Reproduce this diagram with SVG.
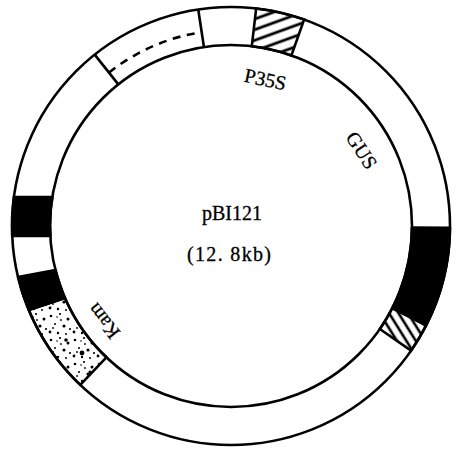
<svg xmlns="http://www.w3.org/2000/svg" width="457" height="449" viewBox="0 0 457 449">
<style>
.ln{fill:none;stroke:#000;stroke-width:2.6}
.blk{fill:#000;stroke:#000;stroke-width:2.6;stroke-linejoin:round}
.lbl{font-family:"Liberation Serif",serif;font-size:20px;fill:#000;stroke:#000;stroke-width:0.3}
</style>
<defs>
<pattern id="hatchTop" patternUnits="userSpaceOnUse" width="20" height="10" patternTransform="rotate(-20)">
<line x1="0" y1="5" x2="20" y2="5" stroke="#000" stroke-width="2.8"/>
</pattern>
<pattern id="hatchRight" patternUnits="userSpaceOnUse" width="20" height="8" patternTransform="rotate(58)">
<line x1="0" y1="4" x2="20" y2="4" stroke="#000" stroke-width="2.6"/>
</pattern>
<pattern id="dots" patternUnits="userSpaceOnUse" width="24" height="24">
<circle cx="3" cy="4" r="1.3"/><circle cx="12" cy="2" r="1.1"/><circle cx="20" cy="7" r="1.5"/>
<circle cx="7" cy="12" r="1"/><circle cx="16" cy="14" r="1.6"/><circle cx="22" cy="17" r="1.1"/>
<circle cx="2" cy="20" r="1.4"/><circle cx="10" cy="21" r="1.2"/><circle cx="18" cy="22" r="1"/>
<circle cx="13" cy="8" r="0.9"/><circle cx="5" cy="16" r="0.9"/><circle cx="9" cy="5" r="0.8"/>
</pattern>
</defs>
<g id="ring">
<circle class="ln" cx="231" cy="226" r="219"/>
<circle class="ln" cx="231" cy="226" r="181"/>
</g>
<g id="segment-dashed">
<path class="ln" d="M94.67 54.61 L118.33 84.35"/>
<path class="ln" d="M108.99 72.61 A196 196 0 0 1 201.69 32.2" stroke-dasharray="8 6.5"/>
</g>
<g id="segment-white">
<path class="ln" d="M198.25 9.46 L203.93 47.03"/>
</g>
<g id="segment-P35S-hatch">
<path d="M256.17 8.45 A219 219 0 0 1 304.1 19.56 L291.42 55.38 A181 181 0 0 0 251.8 46.2 Z" fill="url(#hatchTop)" stroke="#000" stroke-width="2.6"/>
</g>
<g id="segment-right-black">
<path class="blk" d="M449.99 227.91 A219 219 0 0 1 426.13 325.42 L392.27 308.17 A181 181 0 0 0 411.99 227.58 Z"/>
</g>
<g id="segment-right-hatch">
<path d="M426.13 325.42 A219 219 0 0 1 411.05 350.67 L379.81 329.04 A181 181 0 0 0 392.27 308.17 Z" fill="url(#hatchRight)" stroke="#000" stroke-width="2.6"/>
</g>
<g id="segment-left-black1">
<path class="blk" d="M13.93 197 A219 219 0 0 0 12.23 236 L50.28 236 A181 181 0 0 1 52.34 197 Z"/>
</g>
<g id="segment-left-black2">
<path class="blk" d="M18.02 277 A219 219 0 0 0 28.75 310 L64.94 298 A181 181 0 0 1 55.43 270 Z"/>
</g>
<g id="segment-Kam">
<path d="M28.75 310 A219 219 0 0 0 80.25 384.86 L106.41 357.29 A181 181 0 0 1 64.94 298 Z" fill="url(#dots)" stroke="#000" stroke-width="2.6"/>
<circle cx="82" cy="353" r="2.4"/><circle cx="66" cy="340" r="1.8"/><circle cx="90" cy="372" r="1.6"/>
</g>
<g id="labels">
<text class="lbl" x="264" y="86" text-anchor="middle" transform="rotate(12 264 86)">P35S</text>
<text class="lbl" x="356" y="154" text-anchor="middle" transform="rotate(57 356 154)">GUS</text>
<text class="lbl" x="109" y="317" text-anchor="middle" transform="rotate(-128 109 317)">Kam</text>
<text class="lbl" x="232" y="220" text-anchor="middle">pBI121</text>
<text class="lbl" x="229" y="261" text-anchor="middle" textLength="84" lengthAdjust="spacing">(12. 8kb)</text>
</g>
</svg>
